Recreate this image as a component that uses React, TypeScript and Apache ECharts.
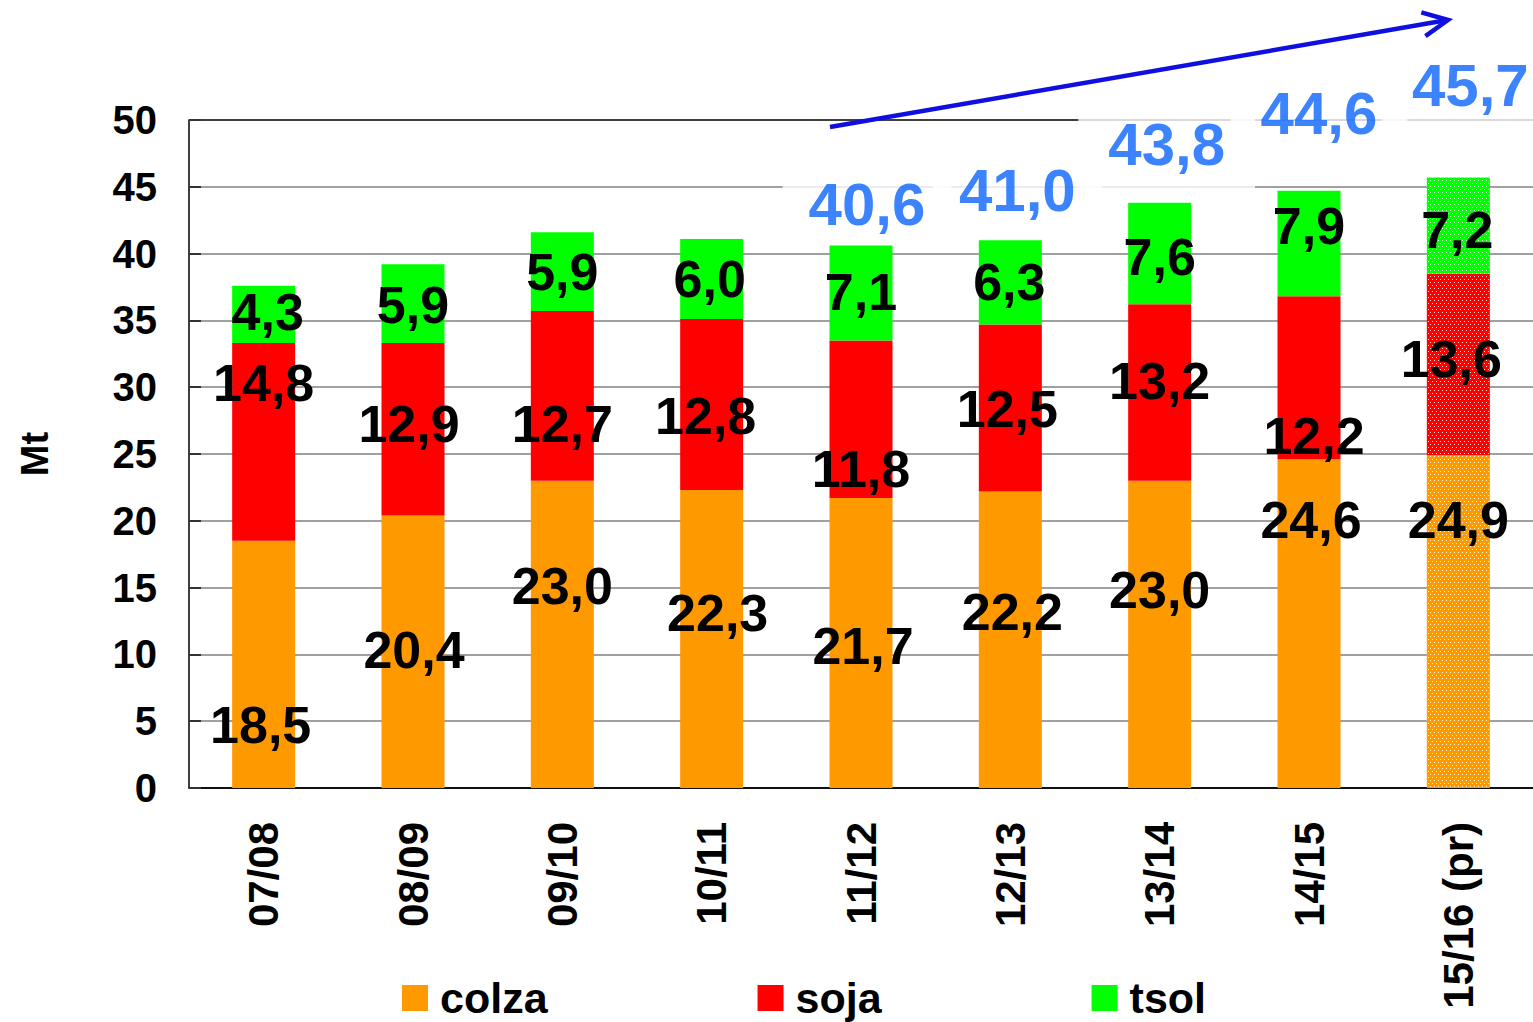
import React, { useEffect, useRef } from 'react';
import * as echarts from 'echarts';

const categories = ['07/08', '08/09', '09/10', '10/11', '11/12', '12/13', '13/14', '14/15', '15/16 (pr)'];
const colza = [18.5, 20.4, 23.0, 22.3, 21.7, 22.2, 23.0, 24.6, 24.9];
const soja = [14.8, 12.9, 12.7, 12.8, 11.8, 12.5, 13.2, 12.2, 13.6];
const tsol = [4.3, 5.9, 5.9, 6.0, 7.1, 6.3, 7.6, 7.9, 7.2];
const totals: (number | null)[] = [null, null, null, null, 40.6, 41.0, 43.8, 44.6, 45.7];
const yMin = 0;
const yMax = 50;
const yInterval = 5;
const projectedIndex = 8;

// label layout tweaks (pixels), not data
const colzaOffsets = [[-3, 61], [1, -2], [0, -48], [6, -26], [2, 3], [2, -28], [0, -44], [2, -104], [0, -102]];
const sojaOffsets = [[0, -59], [-4, -5], [0, 28], [-6, 11], [0, 50], [-3, 1], [0, -12], [5, 58], [-7, -5]];
const tsolOffsets = [[4, -2], [0, 1], [0, 0], [-2, 0], [0, -1], [-1, 0], [0, 3], [0, -18], [-1, 4]];
const totalOffsets = [[0, 0], [0, 0], [0, 0], [0, 0], [6, -41], [7, -50], [7, -58], [10, -79], [12, -92]];
const totalPadding = [[0], [0], [0], [0], [0, 26, 0, 26], [14, 26, 14, 26], [20, 30, 20, 30], [16, 30, 16, 30], [18, 30, 18, 30]];

const FONT = '"Liberation Sans", Arial, Helvetica, sans-serif';
const fmt = (v: number) => v.toFixed(1).replace('.', ',');

const decal = {
  symbol: 'rect',
  symbolSize: 1,
  color: 'rgba(255,255,255,0.85)',
  dashArrayX: [[1, 3], [0, 2, 1, 1]],
  dashArrayY: [1, 1.5],
};

function makeBarData(values: number[], offsets: number[][]) {
  return values.map((v, i) => {
    const item: any = { value: v, label: { offset: offsets[i] } };
    if (i === projectedIndex) item.itemStyle = { decal };
    return item;
  });
}

export default function App() {
  const ref = useRef<HTMLDivElement>(null);
  useEffect(() => {
    if (!ref.current) return;
    const chart = echarts.init(ref.current, null, { renderer: 'svg' });
    const barLabel = {
      show: true,
      position: 'inside',
      fontFamily: FONT,
      fontSize: 52,
      fontWeight: 'bold',
      color: '#000',
      formatter: (p: any) => fmt(p.value),
    };
    const tipX = 1448, tipY = 20, startX = 830, startY = 127;
    const dx = tipX - startX, dy = tipY - startY;
    const len = Math.sqrt(dx * dx + dy * dy);
    const ux = dx / len, uy = dy / len;
    const nx = -uy, ny = ux;
    const hb = 25, hw = 12;
    const bx = tipX - hb * ux, by = tipY - hb * uy;

    chart.setOption({
      animation: false,
      textStyle: { fontFamily: FONT },
      grid: { left: 189, right: -2, top: 120, bottom: 234, containLabel: false },
      legend: {
        data: ['colza', 'soja', 'tsol'],
        left: 402,
        top: 975,
        padding: 0,
        icon: 'rect',
        itemWidth: 26,
        itemHeight: 26,
        itemGap: 210,
        textStyle: { fontFamily: FONT, fontSize: 43, lineHeight: 46, fontWeight: 'bold', color: '#000', padding: [0, 0, 0, 7] },
      },
      xAxis: {
        type: 'category',
        data: categories,
        axisLine: { show: true, lineStyle: { color: '#000', width: 1.5 } },
        axisTick: { show: false },
        axisLabel: {
          interval: 0,
          rotate: 90,
          margin: 34,
          fontFamily: FONT,
          fontSize: 42,
          fontWeight: 'bold',
          color: '#000',
        },
      },
      yAxis: {
        type: 'value',
        min: yMin,
        max: yMax,
        interval: yInterval,
        name: 'Mt',
        nameLocation: 'middle',
        nameRotate: 90,
        nameGap: 135,
        nameTextStyle: { fontFamily: FONT, fontSize: 38, fontWeight: 'bold', color: '#000' },
        axisLine: { show: true, lineStyle: { color: '#000', width: 1.5 } },
        axisTick: { show: true, inside: true, length: 12, lineStyle: { color: '#333', width: 2 } },
        axisLabel: { margin: 32, fontFamily: FONT, fontSize: 40, fontWeight: 'bold', color: '#000' },
        splitLine: {
          show: true,
          lineStyle: {
            color: ['#000', '#808080', '#808080', '#808080', '#808080', '#808080', '#808080', '#808080', '#808080', '#808080', '#000'],
            width: 1.5,
          },
        },
      },
      series: [
        {
          name: 'colza',
          type: 'bar',
          stack: 'total',
          barWidth: 63,
          color: '#FF9900',
          data: makeBarData(colza, colzaOffsets),
          label: barLabel,
        },
        {
          name: 'soja',
          type: 'bar',
          stack: 'total',
          barWidth: 63,
          color: '#FF0000',
          data: makeBarData(soja, sojaOffsets),
          label: barLabel,
        },
        {
          name: 'tsol',
          type: 'bar',
          stack: 'total',
          barWidth: 63,
          color: '#00FF00',
          data: makeBarData(tsol, tsolOffsets),
          label: barLabel,
        },
        {
          name: 'total',
          type: 'scatter',
          symbolSize: 1,
          itemStyle: { color: 'rgba(0,0,0,0)' },
          z: 5,
          data: totals.map((v, i) => ({
            value: v,
            label: { offset: totalOffsets[i], padding: totalPadding[i] },
          })),
          label: {
            show: true,
            position: 'inside',
            fontFamily: FONT,
            fontSize: 60,
            lineHeight: 60,
            fontWeight: 'bold',
            color: '#0A64FF',
            backgroundColor: '#fff',
            formatter: (p: any) => (p.value == null ? '' : fmt(p.value)),
          },
        },
      ],
      graphic: [
        {
          type: 'line',
          z: 100,
          shape: { x1: startX, y1: startY, x2: tipX - 2 * ux, y2: tipY - 2 * uy },
          style: { stroke: '#0F0FE0', lineWidth: 4.5 },
        },
        {
          type: 'polyline',
          z: 100,
          shape: { points: [[bx + hw * nx, by + hw * ny], [tipX, tipY], [bx - hw * nx, by - hw * ny]] },
          style: { stroke: '#0F0FE0', lineWidth: 4.5, fill: 'none' },
        },
      ],
    });
    return () => chart.dispose();
  }, []);
  return <div ref={ref} style={{ width: 1533, height: 1022, position: 'absolute', left: 0, top: 0 }} />;
}
